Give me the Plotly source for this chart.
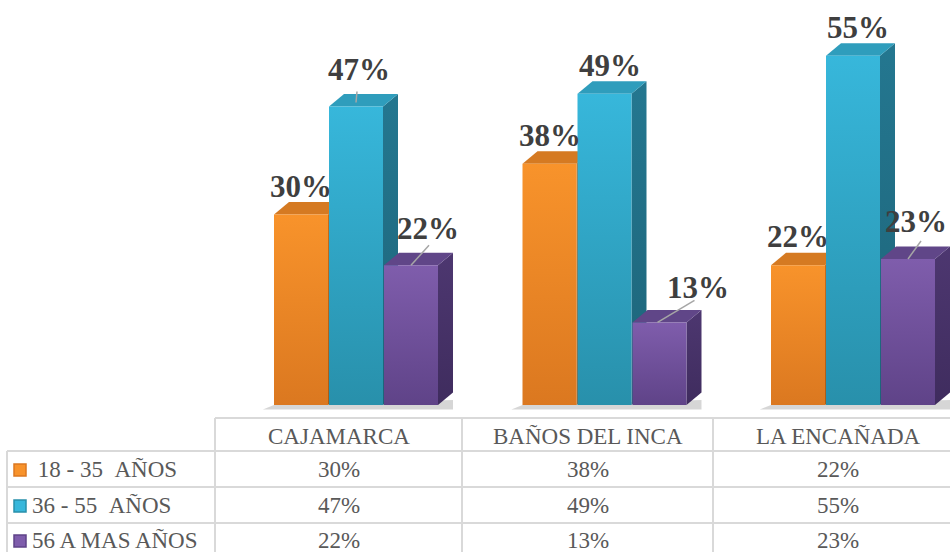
import plotly.graph_objects as go

# ---------------- data ----------------
categories = ["CAJAMARCA", "BAÑOS DEL INCA", "LA ENCAÑADA"]
series_names = ["\u00a018 - 35 \u00a0AÑOS", "36 - 55 \u00a0AÑOS", "56 A MAS AÑOS"]
age_18_35 = [30, 38, 22]
age_36_55 = [47, 49, 55]
age_56_mas = [22, 13, 23]
series_values = [age_18_35, age_36_55, age_56_mas]
suffix = "%"

# ---------------- styles ----------------
W, H = 950, 552
FONT = "Liberation Serif, Times New Roman, serif"
front_cols = [("#DB7820", "#F8932B"), ("#2890AB", "#37B7DB"), ("#5F4388", "#7F5DAC")]
side_cols = [("#A95C17", "#C46E1E"), ("#1D6479", "#247790"), ("#3F2C5E", "#4D3770")]
top_cols = ["#D57A22", "#2F9DBC", "#604688"]
label_color = "#3F3F3F"
table_text = "#595959"
grid_col = "#D9D9D9"

plot_left, plot_right = 215, 950
base_px, table_top = 405, 418
ux = 248.5          # px per category unit
uy = 6.35           # px per percent
x0_px = 356         # px of category 0 group centre
bar_w = 54 / ux
step = 55 / ux
dx = 15 / ux
dy = 12.5 / uy

x_range = [(plot_left - x0_px) / ux, (plot_right - x0_px) / ux]
y_range = [-(table_top - base_px) / uy, base_px / uy]

# leader definitions (px offsets): start shift, line end, label centre
leaders = {
    (0, 1): ((0, -4), (1, -15), (3, -37)),
    (0, 2): ((0, 0), (18, -20), (17, -37)),
    (1, 2): ((-2, 0), (35, -22), (38, -35)),
    (2, 2): ((0, 0), (13, -18), (8, -37)),
}

fig = go.Figure()

# floor shadows
for i in range(len(categories)):
    xl = i - step - bar_w / 2
    xr = i + step + bar_w / 2 + dx
    fig.add_trace(go.Scatter(
        x=[xl - 0.045, xr, xr, xl, xl - 0.045],
        y=[-0.7, -0.7, dy * 0.4, 0, -0.7],
        fill="toself", mode="lines", line=dict(width=0),
        fillcolor="rgba(0,0,0,0.16)", hoverinfo="skip", showlegend=False))

# 3D bars
for i, cat in enumerate(categories):
    for j, vals in enumerate(series_values):
        v = vals[i]
        cx = i + (j - 1) * step
        xl, xr = cx - bar_w / 2, cx + bar_w / 2
        # side
        fig.add_trace(go.Scatter(
            x=[xr, xr + dx, xr + dx, xr, xr], y=[0, dy, v + dy, v, 0],
            fill="toself", mode="lines", line=dict(width=0),
            fillgradient=dict(type="vertical",
                              colorscale=[[0, side_cols[j][0]], [1, side_cols[j][1]]]),
            hoverinfo="skip", showlegend=False))
        # top
        fig.add_trace(go.Scatter(
            x=[xl, xl + dx, xr + dx, xr, xl], y=[v, v + dy, v + dy, v, v],
            fill="toself", mode="lines", line=dict(width=0),
            fillcolor=top_cols[j], hoverinfo="skip", showlegend=False))
        # front
        fig.add_trace(go.Scatter(
            x=[xl, xr, xr, xl, xl], y=[0, 0, v, v, 0],
            fill="toself", mode="lines", line=dict(width=0),
            fillgradient=dict(type="vertical",
                              colorscale=[[0, front_cols[j][0]], [1, front_cols[j][1]]]),
            name=series_names[j].strip(), text=f"{cat}: {v}{suffix}",
            hoverinfo="text", showlegend=False))

# data labels
annotations = []
for i, cat in enumerate(categories):
    for j, vals in enumerate(series_values):
        v = vals[i]
        cx = i + (j - 1) * step
        txt = f"{v}{suffix}"
        if (i, j) in leaders:
            (sx, sy), (ex, ey), (lx, ly) = leaders[(i, j)]
            x_s, y_s = cx + sx / ux, v - sy / uy
            fig.add_trace(go.Scatter(
                x=[x_s, x_s + (ex - sx) / ux], y=[y_s, y_s - (ey - sy) / uy],
                mode="lines", line=dict(color="#A6A6A6", width=1.5),
                hoverinfo="skip", showlegend=False))
            annotations.append(dict(
                x=x_s + (lx - sx) / ux, y=y_s - (ly - sy) / uy, xref="x", yref="y",
                text=f"<b>{txt}</b>", showarrow=False, xanchor="center", yanchor="middle",
                font=dict(family=FONT, size=31, color=label_color)))
        else:
            annotations.append(dict(
                x=cx + (dx / 3 if j == 1 else 0), y=v + dy, xref="x", yref="y",
                text=f"<b>{txt}</b>", showarrow=False, xanchor="center", yanchor="middle",
                yshift=16, font=dict(family=FONT, size=31, color=label_color)))

# ---------------- data table ----------------
def px_x(p):
    return p / W


def px_y(p):
    return 1 - p / H


col_edges = [215, 462, 713, 963]
row_lines = [451, 487, 523]
header_y = 436
row_y = [469, 505, 540]
shapes = []
line = dict(color=grid_col, width=2)
shapes.append(dict(type="line", xref="paper", yref="paper", x0=px_x(215), x1=px_x(W),
                   y0=px_y(table_top), y1=px_y(table_top), line=line))
for r in row_lines:
    shapes.append(dict(type="line", xref="paper", yref="paper", x0=px_x(7), x1=px_x(W),
                       y0=px_y(r), y1=px_y(r), line=line))
for c in col_edges[:-1]:
    shapes.append(dict(type="line", xref="paper", yref="paper", x0=px_x(c), x1=px_x(c),
                       y0=px_y(table_top), y1=px_y(H), line=line))
shapes.append(dict(type="line", xref="paper", yref="paper", x0=px_x(7), x1=px_x(7),
                   y0=px_y(451), y1=px_y(H), line=line))

for k, cat in enumerate(categories):
    cxp = (col_edges[k] + col_edges[k + 1]) / 2
    annotations.append(dict(x=px_x(cxp), y=px_y(header_y), xref="paper", yref="paper",
                            text=cat, showarrow=False, xanchor="center", yanchor="middle",
                            font=dict(family=FONT, size=23, color=table_text)))
for j, name in enumerate(series_names):
    ry = row_y[j]
    shapes.append(dict(type="rect", xref="paper", yref="paper",
                       x0=px_x(14), x1=px_x(26), y0=px_y(ry - 6 + 1), y1=px_y(ry + 6 + 1),
                       fillcolor=front_cols[j][1], line=dict(color=front_cols[j][0], width=1.5)))
    annotations.append(dict(x=px_x(30), y=px_y(ry), xref="paper", yref="paper",
                            text=name, showarrow=False, xanchor="left", yanchor="middle",
                            font=dict(family=FONT, size=23, color=table_text)))
    for k, cat in enumerate(categories):
        cxp = (col_edges[k] + col_edges[k + 1]) / 2
        annotations.append(dict(x=px_x(cxp), y=px_y(ry), xref="paper", yref="paper",
                                text=f"{series_values[j][k]}{suffix}", showarrow=False,
                                xanchor="center", yanchor="middle",
                                font=dict(family=FONT, size=23, color=table_text)))

fig.update_layout(
    width=W, height=H,
    margin=dict(l=0, r=0, t=0, b=0),
    paper_bgcolor="white", plot_bgcolor="white",
    showlegend=False,
    xaxis=dict(domain=[px_x(plot_left), 1], range=x_range, visible=False, fixedrange=True),
    yaxis=dict(domain=[px_y(table_top), 1], range=y_range, visible=False, fixedrange=True),
    annotations=annotations,
    shapes=shapes,
)

fig.write_html("out.html", config={"displayModeBar": False},
               post_script="document.body.style.margin='0';document.body.style.overflow='hidden';")
